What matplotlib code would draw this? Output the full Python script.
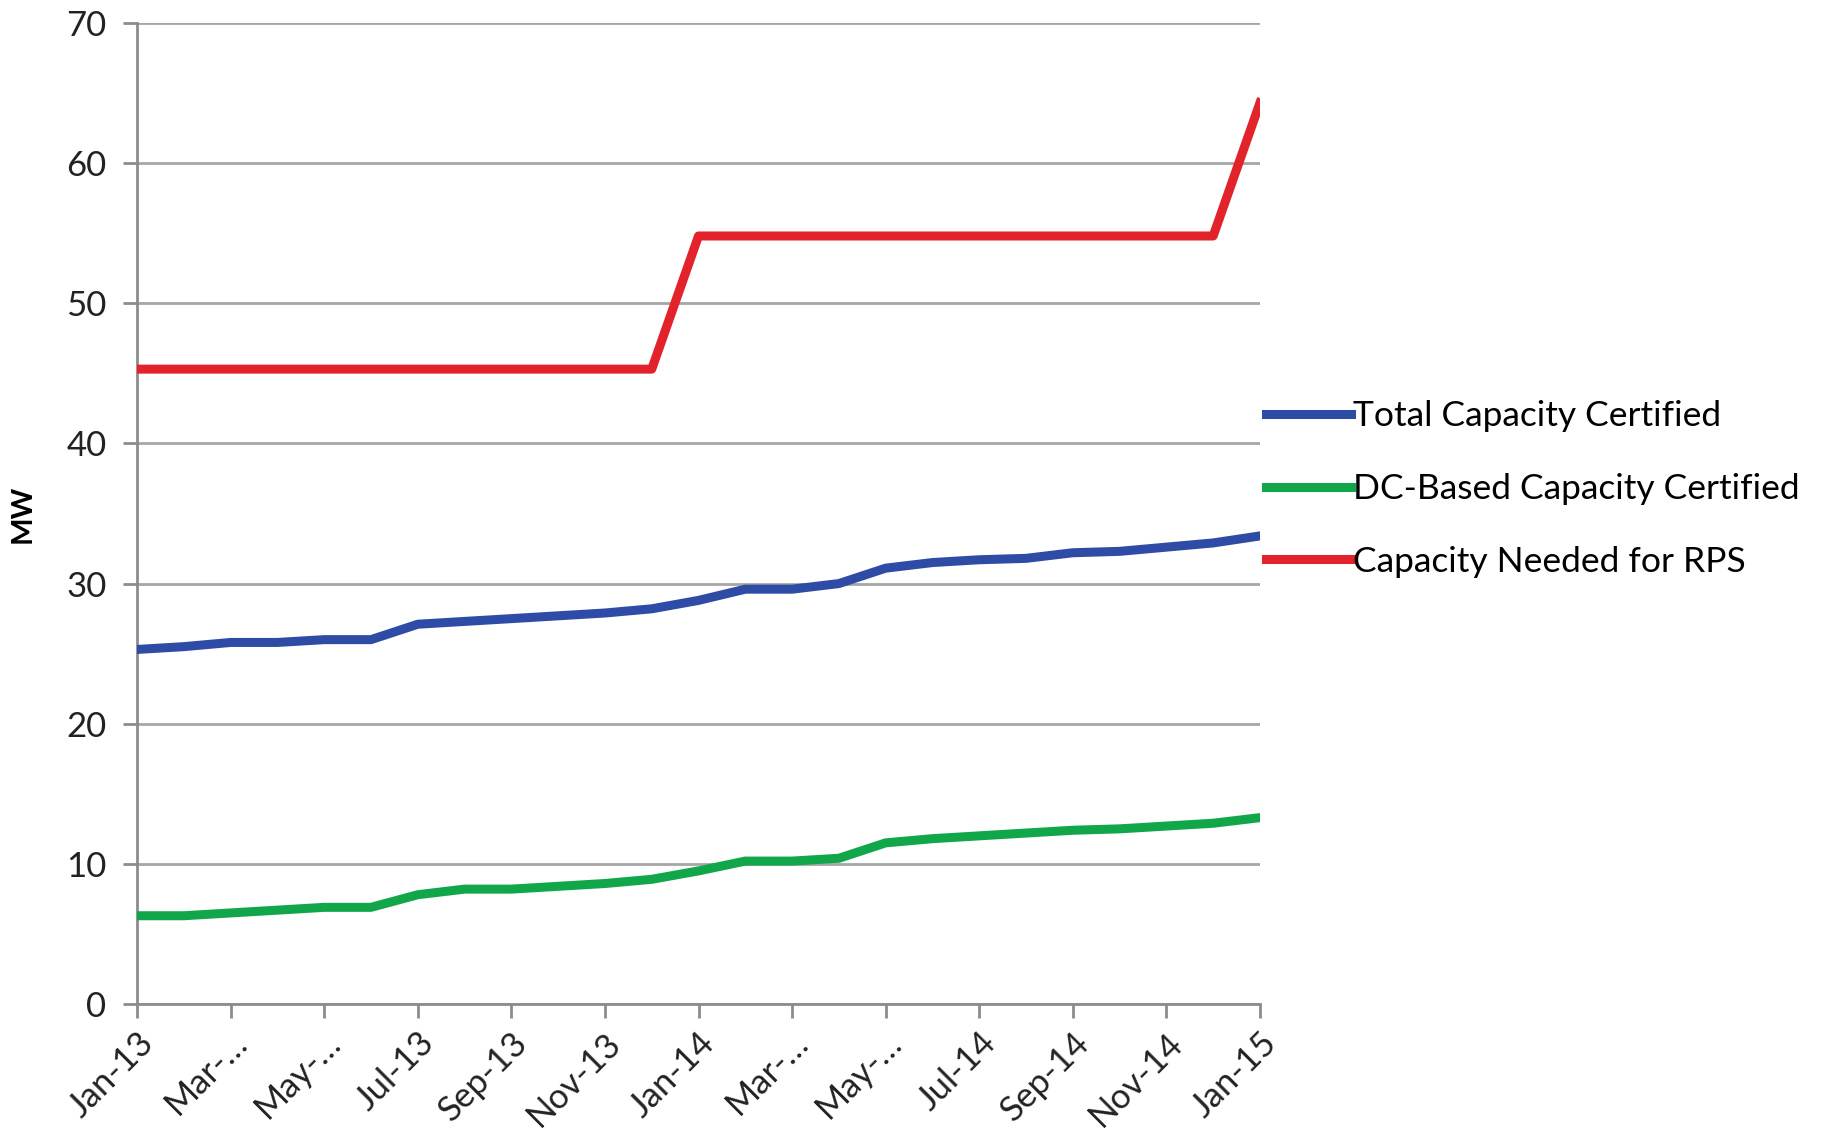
import matplotlib
matplotlib.use('Agg')
import matplotlib.pyplot as plt

plt.rcParams['font.family'] = ['Lato', 'DejaVu Sans']

months = ['Jan-13', 'Feb-13', 'Mar-13', 'Apr-13', 'May-13', 'Jun-13', 'Jul-13',
          'Aug-13', 'Sep-13', 'Oct-13', 'Nov-13', 'Dec-13', 'Jan-14', 'Feb-14',
          'Mar-14', 'Apr-14', 'May-14', 'Jun-14', 'Jul-14', 'Aug-14', 'Sep-14',
          'Oct-14', 'Nov-14', 'Dec-14', 'Jan-15']

total_cap = [25.3, 25.5, 25.8, 25.8, 26.0, 26.0, 27.1, 27.3, 27.5, 27.7, 27.9, 28.2,
             28.8, 29.6, 29.6, 30.0, 31.1, 31.5, 31.7, 31.8, 32.2, 32.3, 32.6, 32.9, 33.4]
dc_cap = [6.3, 6.3, 6.5, 6.7, 6.9, 6.9, 7.8, 8.2, 8.2, 8.4, 8.6, 8.9,
          9.5, 10.2, 10.2, 10.4, 11.5, 11.8, 12.0, 12.2, 12.4, 12.5, 12.7, 12.9, 13.3]
rps_needed = [45.3, 45.3, 45.3, 45.3, 45.3, 45.3, 45.3, 45.3, 45.3, 45.3, 45.3, 45.3,
              54.8, 54.8, 54.8, 54.8, 54.8, 54.8, 54.8, 54.8, 54.8, 54.8, 54.8, 54.8, 64.3]

tick_labels = ['Jan-13', 'Mar-…', 'May-…', 'Jul-13', 'Sep-13', 'Nov-13', 'Jan-14',
               'Mar-…', 'May-…', 'Jul-14', 'Sep-14', 'Nov-14', 'Jan-15']

fig = plt.figure(figsize=(18.3, 11.42), dpi=100)
ax = fig.add_axes([0.0749, 0.1208, 0.6136, 0.8591])

x = list(range(len(months)))
ax.plot(x, total_cap, color='#2E4BA6', lw=6.5, label='Total Capacity Certified', zorder=3)
ax.plot(x, dc_cap, color='#12A64A', lw=6.5, label='DC-Based Capacity Certified', zorder=3)
ax.plot(x, rps_needed, color='#E2232B', lw=6.5, label='Capacity Needed for RPS', zorder=3)

ax.set_xlim(0, len(months) - 1)
ax.set_ylim(0, 70)
ax.set_yticks(range(0, 71, 10))
ax.set_xticks(x[::2])
ax.set_xticklabels(tick_labels, rotation=45, ha='right', rotation_mode='anchor')

ax.yaxis.grid(True, color='#A6A6A6', lw=2)
ax.set_axisbelow(True)
for s in ['top', 'right']:
    ax.spines[s].set_visible(False)
for s in ['left', 'bottom']:
    ax.spines[s].set_color('#8C8C8C')
    ax.spines[s].set_linewidth(2)

ax.tick_params(axis='both', labelsize=25, colors='#8C8C8C', labelcolor='#222222',
               width=2, length=10)
ax.tick_params(axis='x', pad=6)
ax.tick_params(axis='y', pad=12)

ax.set_ylabel('MW', fontsize=21, fontweight='bold', labelpad=22)

ax.legend(loc='center left', bbox_to_anchor=(1.005, 0.525), frameon=False,
          fontsize=25.5, handlelength=2.4, handletextpad=0.08, labelspacing=1.15,
          borderaxespad=0, borderpad=0)

fig.savefig('out.png', dpi=100)
